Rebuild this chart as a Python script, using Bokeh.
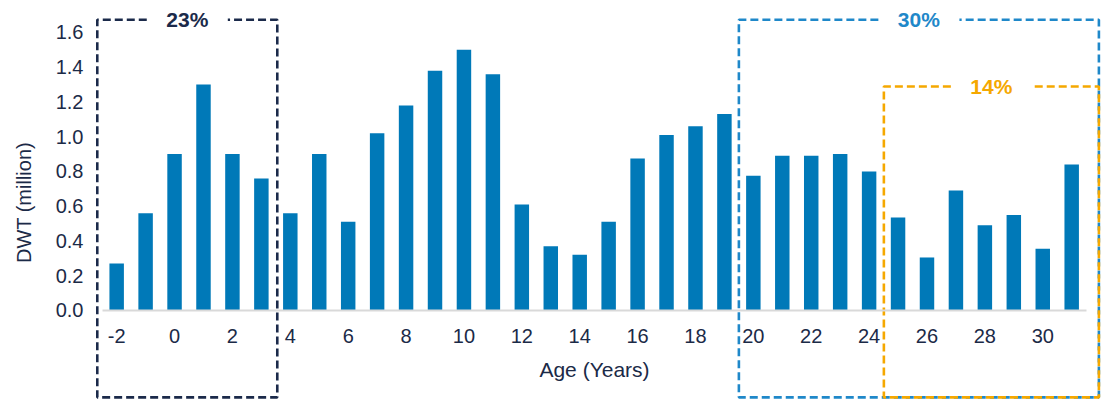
from bokeh.plotting import figure
from bokeh.models import ColumnDataSource, FixedTicker, NumeralTickFormatter, Range1d
from bokeh.embed import file_html
from bokeh.resources import INLINE
from bokeh.core.properties import value

# ---------------- data ----------------
ages = list(range(-2, 32))
dwt_million = [0.27, 0.56, 0.90, 1.30, 0.90, 0.76, 0.56, 0.90, 0.51, 1.02,
               1.18, 1.38, 1.50, 1.36, 0.61, 0.37, 0.32, 0.51, 0.875, 1.01,
               1.06, 1.13, 0.775, 0.89, 0.89, 0.90, 0.80, 0.535, 0.305, 0.69,
               0.49, 0.55, 0.355, 0.84]
x_ticks = list(range(-2, 31, 2))
x_tick_labels = [str(t) for t in x_ticks]
y_ticks = [0.0, 0.2, 0.4, 0.6, 0.8, 1.0, 1.2, 1.4, 1.6]

group_labels = ["23%", "30%", "14%"]
group_first_age = [-2, 20, 25]
group_last_age = [3, 31, 31]

# ---------------- layout / style ----------------
BAR_COLOR = "#0079b8"
TEXT_COLOR = "#1b2a47"
FONT = "Liberation Sans"
group_colors = ["#1b2a4a", "#1f88c9", "#f5a800"]
group_pad_left = [0.67, 0.50, 0.49]
group_pad_right = [0.55, 0.94, 0.94]
group_top = [1.673, 1.673, 1.289]
box_bottom = -0.50
label_gap = 1.40

p = figure(width=1101, height=404, output_backend="svg", toolbar_location=None,
           x_range=Range1d(-2.766, 32.03), y_range=Range1d(-0.541, 1.7837),
           min_border_left=94, min_border_right=0, min_border_top=0,
           min_border_bottom=0)
p.outline_line_color = None
p.grid.visible = False
p.background_fill_color = "white"
p.border_fill_color = "white"

src = ColumnDataSource(dict(age=ages, dwt=dwt_million))
p.vbar(x="age", top="dwt", width=0.5, bottom=0, source=src,
       fill_color=BAR_COLOR, line_color=None)

# group boxes (dashed, with gap on top for the label)
xs, ys, cols, cx, cy = [], [], [], [], []
for lab, a0, a1, pl, pr, top, col in zip(group_labels, group_first_age, group_last_age,
                                         group_pad_left, group_pad_right, group_top,
                                         group_colors):
    left = a0 - pl
    right = a1 + pr
    mid = (left + right) / 2
    xs.append([mid - label_gap, left, left, right, right, mid + label_gap])
    ys.append([top, top, box_bottom, box_bottom, top, top])
    cols.append(col)
    cx.append(mid)
    cy.append(top)
p.multi_line(xs=xs, ys=ys, line_color=cols, line_width=2.6, line_dash="8 4")
p.text(x=cx, y=cy, text=group_labels, text_color=group_colors,
       text_font=value(FONT), text_font_style="bold", text_font_size="21px",
       text_align="center", text_baseline="middle")

# x axis at y = 0
xa = p.xaxis[0]
xa.fixed_location = 0
xa.bounds = (-2.5, 31.5)
xa.ticker = FixedTicker(ticks=x_ticks)
xa.major_label_overrides = {t: s for t, s in zip(x_ticks, x_tick_labels)}
xa.axis_line_color = "#d9d9d9"
xa.axis_line_width = 2
xa.major_tick_line_color = None
xa.minor_tick_line_color = None
xa.major_tick_out = 0
xa.major_tick_in = 0
xa.major_label_text_font = FONT
xa.major_label_text_font_size = "20px"
xa.major_label_text_color = TEXT_COLOR
xa.major_label_standoff = 19
xa.axis_label = "Age (Years)"
xa.axis_label_text_font = FONT
xa.axis_label_text_font_size = "21px"
xa.axis_label_text_font_style = "normal"
xa.axis_label_text_color = TEXT_COLOR
xa.axis_label_standoff = 11

ya = p.yaxis[0]
ya.ticker = FixedTicker(ticks=y_ticks)
ya.formatter = NumeralTickFormatter(format="0.0")
ya.axis_line_color = None
ya.major_tick_line_color = None
ya.minor_tick_line_color = None
ya.major_tick_out = 0
ya.major_tick_in = 0
ya.major_label_text_font = FONT
ya.major_label_text_font_size = "20px"
ya.major_label_text_color = TEXT_COLOR
ya.major_label_standoff = 11
ya.axis_label = "DWT (million)"
ya.axis_label_text_font = FONT
ya.axis_label_text_font_size = "20px"
ya.axis_label_text_font_style = "normal"
ya.axis_label_text_color = TEXT_COLOR
ya.axis_label_standoff = 18

open("out.html", "w").write(file_html(p, INLINE))
